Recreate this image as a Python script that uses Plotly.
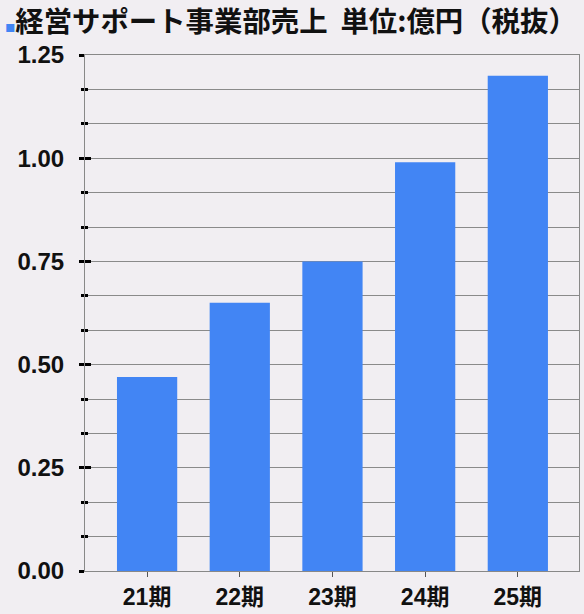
import plotly.graph_objects as go

periods = ["21期", "22期", "23期", "24期", "25期"]
sales = [0.47, 0.65, 0.75, 0.99, 1.20]
y_ticks = [0.0, 0.25, 0.5, 0.75, 1.0, 1.25]
y_labels = ["0.00", "0.25", "0.50", "0.75", "1.00", "1.25"]

BLUE = "#4285F4"
BG = "#F1EEF2"
FONT = "Noto Sans CJK JP"

fig = go.Figure()
fig.add_trace(go.Bar(x=list(range(len(periods))), y=sales, marker_color=BLUE,
                     marker_line_width=0, width=0.65, showlegend=False))
# invisible trace on second axis, only to draw the inner half of the ticks
fig.add_trace(go.Scatter(x=[0], y=[0], yaxis="y2", mode="markers",
                         marker_opacity=0, showlegend=False, hoverinfo="skip"))

minor_step = 1.25 / 15

fig.update_layout(
    width=584, height=614,
    paper_bgcolor=BG, plot_bgcolor=BG,
    margin=dict(l=85, r=5, t=55, b=43),
    font=dict(family=FONT, color="#111"),
    title=dict(
        text="<span style='color:#4285F4;font-size:10px'>■</span><b>経営サポート事業部売上&nbsp;&nbsp;単位:億円（税抜）</b>",
        x=0.009, xanchor="left", y=0.964, yanchor="middle",
        font=dict(size=28.4, family=FONT, color="#111"),
    ),
    xaxis=dict(
        range=[-0.67, 4.66],
        tickvals=list(range(len(periods))), ticktext=[f"<b>{p}</b>" for p in periods],
        tickfont=dict(size=23, family="Liberation Sans, " + FONT, color="#111"),
        ticks="outside", ticklen=5, tickwidth=1, tickcolor="#555",
        showline=True, linecolor="#888", linewidth=1, mirror=True,
        showgrid=False, zeroline=False,
    ),
    yaxis=dict(
        range=[0, 1.25],
        tickvals=y_ticks, ticktext=[f"<b>{t}</b>" for t in y_labels],
        tickfont=dict(size=24, family="Liberation Sans", color="#111"),
        ticks="outside", ticklen=5, tickwidth=3, tickcolor="#000",
        ticklabelstandoff=10,
        showline=True, linecolor="#888", linewidth=1, mirror=True,
        showgrid=True, gridcolor="#8a8a8a", gridwidth=1,
        zeroline=False,
        minor=dict(dtick=minor_step, tick0=0, ticks="outside", ticklen=3,
                   tickwidth=3, tickcolor="#000", showgrid=True,
                   gridcolor="#8a8a8a", gridwidth=1),
    ),
    yaxis2=dict(
        range=[0, 1.25], overlaying="y", side="left",
        tickvals=y_ticks, showticklabels=False,
        ticks="inside", ticklen=6, tickwidth=3, tickcolor="#000",
        showgrid=False, zeroline=False, showline=False,
        minor=dict(dtick=minor_step, tick0=0, ticks="inside", ticklen=3,
                   tickwidth=3, tickcolor="#000"),
    ),
)

fig.write_html("out.html", config={"displayModeBar": False},
               post_script="document.body.style.margin='0';document.body.style.overflow='hidden';")
